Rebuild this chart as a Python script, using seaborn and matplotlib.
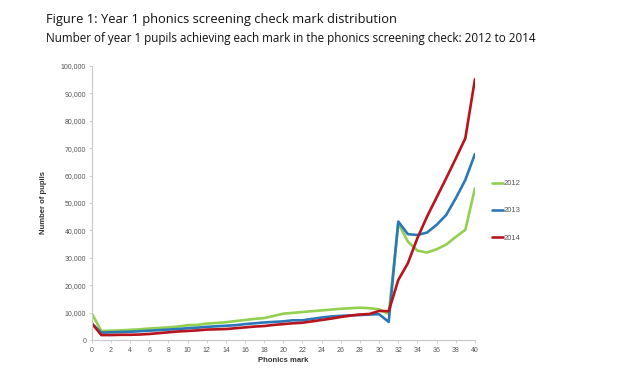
import matplotlib
matplotlib.use("Agg")
import matplotlib.pyplot as plt
import seaborn as sns
import pandas as pd
import numpy as np
from matplotlib.ticker import FuncFormatter, MultipleLocator

marks = list(range(0, 41))
y2012 = [9.7, 3.3, 3.4, 3.5, 3.7, 3.9, 4.2, 4.4, 4.6, 4.9, 5.4, 5.5, 6.0, 6.2, 6.5, 6.9, 7.3, 7.7, 8.0, 8.8,
         9.6, 9.9, 10.2, 10.5, 10.8, 11.1, 11.4, 11.6, 11.8, 11.6, 11.2, 9.5, 42.6, 35.9, 32.6, 31.9, 33.1,
         34.8, 37.6, 40.2, 55.3]
y2013 = [6.0, 2.7, 2.8, 2.9, 3.0, 3.2, 3.4, 3.6, 3.8, 4.0, 4.3, 4.5, 4.8, 5.0, 5.2, 5.4, 5.8, 6.1, 6.4, 6.6,
         6.8, 7.2, 7.2, 7.7, 8.2, 8.6, 8.8, 9.0, 9.1, 9.3, 9.4, 6.6, 43.2, 38.6, 38.3, 39.2, 42.0,
         45.6, 51.7, 58.4, 67.8]
y2014 = [6.1, 1.8, 1.8, 1.9, 1.9, 2.0, 2.2, 2.5, 2.8, 3.1, 3.3, 3.5, 3.8, 3.9, 4.0, 4.3, 4.6, 4.9, 5.1, 5.5,
         5.8, 6.1, 6.3, 6.8, 7.3, 7.8, 8.4, 8.9, 9.3, 9.5, 10.6, 10.5, 21.9, 28.0, 37.2, 45.0, 52.0,
         59.0, 66.2, 73.6, 95.1]
years = ["2012", "2013", "2014"]
colors = ["#92d050", "#2a78b8", "#b8141c"]

df = pd.DataFrame({
    "mark": marks * 3,
    "pupils": [v * 1000 for v in y2012 + y2013 + y2014],
    "year": sum([[y] * len(marks) for y in years], []),
})

sns.set_theme(style="white")
plt.rcParams["font.family"] = ["Liberation Sans", "DejaVu Sans"]

fig = plt.figure(figsize=(6.2, 3.72), dpi=100)
ax = fig.add_axes([0.148, 0.086, 0.618, 0.737])
sns.lineplot(data=df, x="mark", y="pupils", hue="year", palette=dict(zip(years, colors)),
             linewidth=1.9, ax=ax, legend=False)

ax.set_xlim(0, 40)
ax.set_ylim(0, 100000)
ax.xaxis.set_major_locator(MultipleLocator(2))
ax.yaxis.set_major_locator(MultipleLocator(10000))
ax.yaxis.set_major_formatter(FuncFormatter(lambda v, p: f"{int(v):,}"))
ax.tick_params(axis="both", labelsize=5, colors="#555555", length=2, width=0.6, direction="out", pad=2)
ax.tick_params(axis="x", pad=3)
for s in ["top", "right"]:
    ax.spines[s].set_visible(False)
for s in ["left", "bottom"]:
    ax.spines[s].set_color("#c8c8c8")
    ax.spines[s].set_linewidth(0.8)
ax.tick_params(left=True, bottom=True, color="#c8c8c8")
ax.set_xlabel("Phonics mark", fontsize=5.5, fontweight="bold", labelpad=2, color="#333333")
ax.set_ylabel("Number of pupils", fontsize=5.5, fontweight="bold", labelpad=10, color="#333333")

# legend
handles = [plt.Line2D([0], [0], color=c, lw=1.9) for c in colors]
fig.legend(handles, years, loc="upper left", bbox_to_anchor=(0.783, 0.535), frameon=False,
           fontsize=5.5, handlelength=1.4, handletextpad=0.1, labelspacing=2.6, labelcolor="#555555")

fig.text(0.075, 0.937, "Figure 1: Year 1 phonics screening check mark distribution",
         fontsize=9.3, family=["Open Sans", "DejaVu Sans"], color="#111111")
fig.text(0.075, 0.888, "Number of year 1 pupils achieving each mark in the phonics screening check: 2012 to 2014",
         fontsize=8.35, family=["Open Sans", "DejaVu Sans"], color="#111111")

fig.savefig("out.png", dpi=100)
